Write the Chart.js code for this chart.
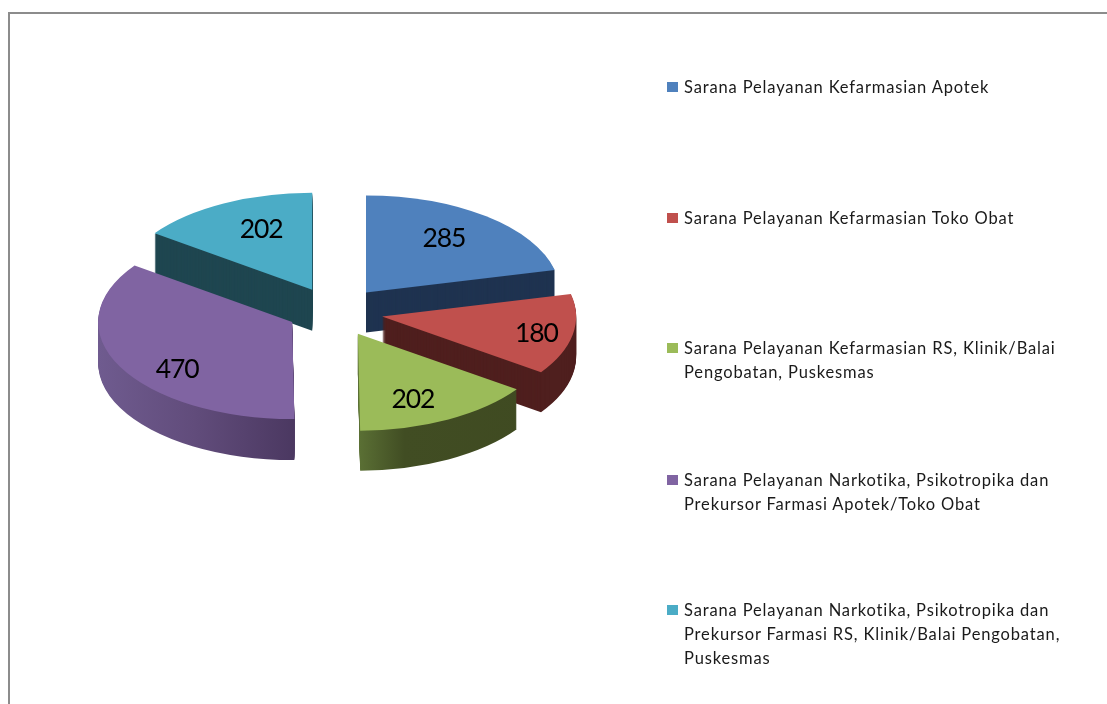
<!DOCTYPE html>
<html><head><meta charset="utf-8">
<style>
html,body{margin:0;padding:0;background:#fff;width:1107px;height:704px;overflow:hidden}
#wrap{position:relative;width:1107px;height:704px}
#frame{position:absolute;left:8px;top:12px;right:-5px;bottom:-5px;border:2px solid #8c8c8c;box-sizing:border-box}
canvas{position:absolute;left:0;top:0}
.item{position:absolute;left:684px;font:16.5px/24px Lato,sans-serif;letter-spacing:.85px;color:#1a1a1a;white-space:pre}
.sw{position:absolute;left:667px;width:11px;height:10px}
</style></head><body>
<div id="wrap"><div id="frame"></div><canvas id="c" width="1107" height="704"></canvas></div>
<script src="https://cdn.jsdelivr.net/npm/chart.js@4"></script>
<script>
const categories=["Sarana Pelayanan Kefarmasian Apotek","Sarana Pelayanan Kefarmasian Toko Obat","Sarana Pelayanan Kefarmasian RS, Klinik/Balai Pengobatan, Puskesmas","Sarana Pelayanan Narkotika, Psikotropika dan Prekursor Farmasi Apotek/Toko Obat","Sarana Pelayanan Narkotika, Psikotropika dan Prekursor Farmasi RS, Klinik/Balai Pengobatan, Puskesmas"];
const legendLines=[["Sarana Pelayanan Kefarmasian Apotek"],["Sarana Pelayanan Kefarmasian Toko Obat"],["Sarana Pelayanan Kefarmasian RS, Klinik/Balai","Pengobatan, Puskesmas"],["Sarana Pelayanan Narkotika, Psikotropika dan","Prekursor Farmasi Apotek/Toko Obat"],["Sarana Pelayanan Narkotika, Psikotropika dan","Prekursor Farmasi RS, Klinik/Balai Pengobatan,","Puskesmas"]];
const values=[285,180,202,470,202];
const topColors=["#4f81bd","#c0504d","#9bbb59","#8064a2","#4bacc6"];
const wallColors=["#1f3350","#4f1f1e","#414d23","#5a4676","#1f4650"];
const labelRadius=[0.686,0.804,0.727,0.75,0.68];
const labelAngle=[0.467,0.537,0.593,0.411,0.58];
const explode=[50,48,49,50,50];
const nudgeX=[0,0,0,1.5,0];
const nudgeY=[0,0,0,-1.5,0];
const depths=[40,40,40,41,41];
const drawOrder=[4,0,1,3,2];
const TILT=0.5,CX=335,CY=312;

function rimFill(ctx,a,i){
 const g=ctx.createLinearGradient(a.x-a.outerRadius,0,a.x+a.outerRadius,0);
 if(i===3){g.addColorStop(0,'#6f5b8f');g.addColorStop(.25,'#614c7b');g.addColorStop(.505,'#4b3861');g.addColorStop(1,'#4b3861');}
 else if(i===2){g.addColorStop(0,'#5a6f34');g.addColorStop(.505,'#5a6f34');g.addColorStop(.62,'#414d23');g.addColorStop(1,'#3f4a21');}
 else return wallColors[i];
 return g;
}
const pie3d={id:'pie3d',
 beforeDatasetDraw(chart,args){
  const ctx=chart.ctx,meta=args.meta;
  const place=(a,i,dy)=>{
   const mid=(a.startAngle+a.endAngle)/2;
   ctx.translate(CX+nudgeX[i],CY+nudgeY[i]+dy);ctx.scale(1,TILT);
   ctx.translate(Math.cos(mid)*explode[i],Math.sin(mid)*explode[i]);
   ctx.translate(-a.x,-a.y);
  };
  const flat=fill=>({backgroundColor:fill,borderColor:fill,borderWidth:0,borderAlign:'center',borderRadius:0,spacing:0,offset:0,circular:true,borderDash:[],borderDashOffset:0});
  for(const i of drawOrder){
   const a=meta.data[i],saved=a.options;
   for(let d=depths[i];d>=1;d--){
    ctx.save();place(a,i,d);
    a.options=flat(rimFill(ctx,a,i));
    a.draw(ctx);ctx.restore();
   }
   a.options=saved;
   ctx.save();place(a,i,0);a.draw(ctx);ctx.restore();
  }
  ctx.save();ctx.fillStyle='#000';ctx.font='26.5px Lato,sans-serif';ctx.letterSpacing='-1.1px';ctx.textAlign='center';ctx.textBaseline='middle';
  values.forEach((v,i)=>{
   const a=meta.data[i],mid=(a.startAngle+a.endAngle)/2,r=a.outerRadius*labelRadius[i];
   const th=a.startAngle+(a.endAngle-a.startAngle)*labelAngle[i];
   const x=CX+Math.cos(mid)*50+Math.cos(th)*r,y=CY+(Math.sin(mid)*50+Math.sin(th)*r)*TILT;
   ctx.fillText(String(v),x,y);
  });
  ctx.restore();
  return false;
 }};
new Chart(document.getElementById('c'),{type:'pie',
 data:{labels:categories,datasets:[{data:values,backgroundColor:topColors,borderWidth:0,clip:false}]},
 options:{responsive:false,animation:false,rotation:0,
  layout:{padding:{left:141,right:578,top:158,bottom:158}},
  plugins:{legend:{display:false},tooltip:{enabled:false}}},
 plugins:[pie3d]});
const legendY=[75,206,336,468,598];
const wrap=document.getElementById('wrap');
legendLines.forEach((ls,i)=>{
 const s=document.createElement('div');s.className='sw';s.style.top=(legendY[i]+7)+'px';s.style.background=topColors[i];wrap.appendChild(s);
 ls.forEach((t,j)=>{const d=document.createElement('div');d.className='item';d.style.top=(legendY[i]+j*24)+'px';d.textContent=t;wrap.appendChild(d);});
});
</script></body></html>
